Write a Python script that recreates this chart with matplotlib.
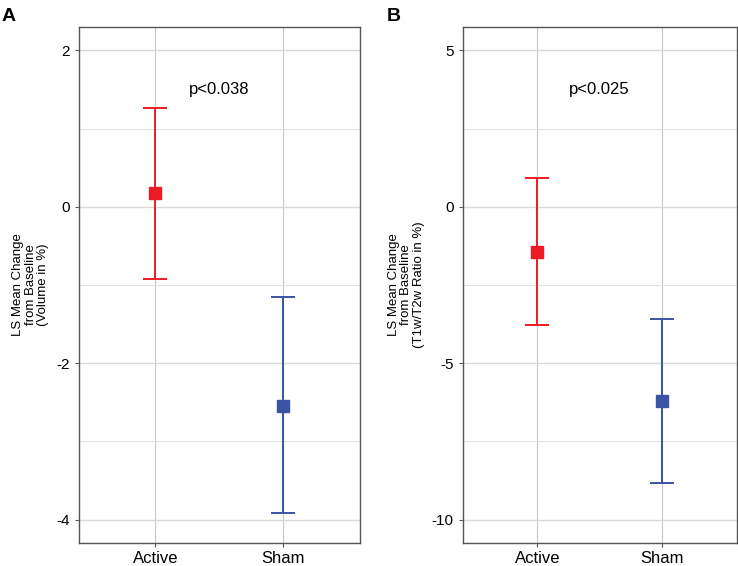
import matplotlib
matplotlib.use("Agg")
import matplotlib.pyplot as plt
from matplotlib.ticker import MultipleLocator

plt.rcParams['font.family'] = ['Liberation Sans', 'DejaVu Sans']
plt.rcParams['axes.unicode_minus'] = False

# ---- data ----
groups = ["Active", "Sham"]
colors = ["#ED1C24", "#3A53A4"]

vol_mean = [0.17, -2.55]
vol_low = [-0.92, -3.92]
vol_high = [1.26, -1.16]
vol_p = "p<0.038"

ratio_mean = [-1.44, -6.22]
ratio_low = [-3.78, -8.83]
ratio_high = [0.93, -3.58]
ratio_p = "p<0.025"

panels = [
    ("A", vol_mean, vol_low, vol_high, vol_p,
     "LS Mean Change\nfrom Baseline\n(Volume in %)", (-4.3, 2.3), 2, 1, 1.5),
    ("B", ratio_mean, ratio_low, ratio_high, ratio_p,
     "LS Mean Change\nfrom Baseline\n(T1w/T2w Ratio in %)", (-10.75, 5.75), 5, 2.5, 3.75),
]

fig = plt.figure(figsize=(7.38, 5.66), dpi=100)
positions = [[0.1066, 0.0406, 0.381, 0.912], [0.627, 0.0406, 0.371, 0.912]]
letter_x = [0.002, 0.524]

for i, (letter, mean, low, high, ptxt, ylab, ylim, major, minor, py) in enumerate(panels):
    ax = fig.add_axes(positions[i])
    for j, g in enumerate(groups):
        x = j + 1
        ax.errorbar([x], [mean[j]],
                    yerr=[[mean[j] - low[j]], [high[j] - mean[j]]],
                    fmt="s", color=colors[j], ecolor=colors[j],
                    markersize=8.5, elinewidth=1.4, capsize=8.5, capthick=1.4, zorder=3)
    ax.set_xlim(0.4, 2.6)
    ax.set_ylim(*ylim)
    ax.set_xticks([1, 2])
    ax.set_xticklabels(groups, fontsize=12)
    ax.yaxis.set_major_locator(MultipleLocator(major))
    ax.yaxis.set_minor_locator(MultipleLocator(minor))
    ax.tick_params(axis="y", which="major", labelsize=11, length=3, color="#555555")
    ax.tick_params(axis="y", which="minor", length=0)
    ax.tick_params(axis="x", length=3, color="#555555", pad=3)
    ax.grid(True, which="major", axis="x", color="#c8c8c8", linewidth=0.8, zorder=0)
    ax.grid(True, which="major", axis="y", color="#d8d8d8", linewidth=1.0, zorder=0)
    ax.grid(True, which="minor", axis="y", color="#e2e2e2", linewidth=0.8, zorder=0)
    ax.set_axisbelow(True)
    for s in ax.spines.values():
        s.set_color("#555555")
        s.set_linewidth(1.0)
    ax.set_ylabel(ylab, fontsize=9.5, labelpad=5, linespacing=1.05,
                  multialignment="center")
    ax.text(1.5, py, ptxt, fontsize=12, ha="center", va="center")
    fig.text(letter_x[i], 0.985, letter, fontsize=14, fontweight="bold", va="top", ha="left")

fig.savefig("out.png", dpi=100)
